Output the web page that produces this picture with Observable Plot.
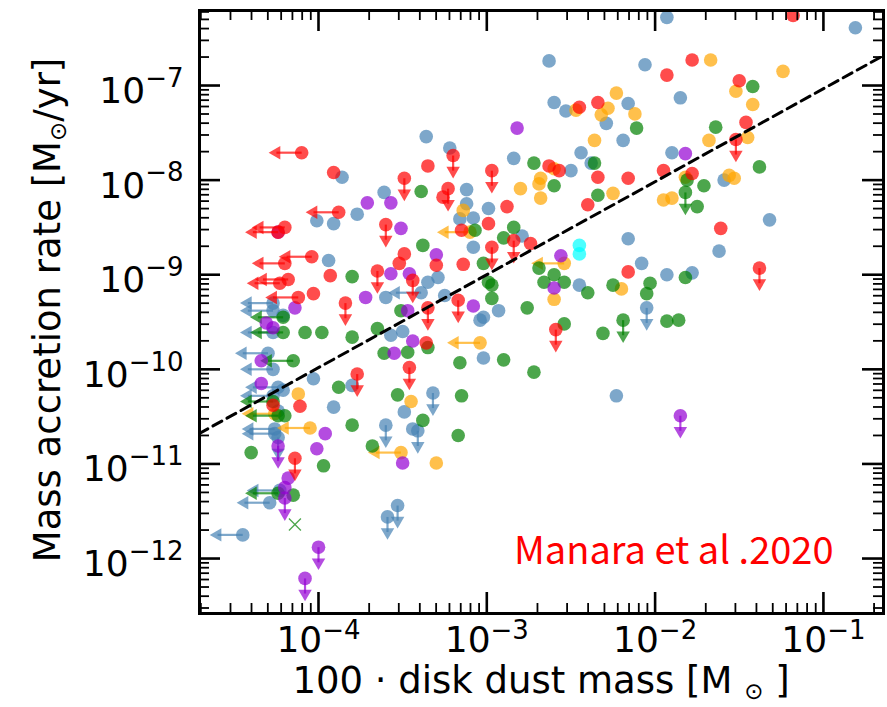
<!DOCTYPE html>
<html>
<head>
<meta charset="utf-8">
<script src="https://cdn.jsdelivr.net/npm/d3@7"></script>
<script src="https://cdn.jsdelivr.net/npm/@observablehq/plot@0.6"></script>
<style>
html, body { margin: 0; padding: 0; background: #fff; }
#chart svg { display: block; }
</style>
</head>
<body>
<div id="chart"></div>
<script>
// ---- Data: log10(100 * disk dust mass [Msun]) and log10(mass accretion rate [Msun/yr]) ----
// kind: d = detection, v = upper limit on accretion rate, l = upper limit on disk mass

const blueLogM = [-4.01,-3.94,-4.27,-4.27,-4.21,-4.27,-4.30,-4.27,-4.24,-4.21,-4.27,-4.03,-4.24,-4.26,-4.26,-4.24,-4.29,-4.23,-4.45,-3.36,-3.22,-3.86,-3.61,-3.12,-3.12,-3.16,-3.08,-2.99,-3.77,-3.91,-3.08,-3.35,-3.29,-3.60,-3.39,-3.25,-3.02,-3.50,-3.57,-3.04,-3.02,-3.80,-3.49,-3.32,-3.91,-3.60,-3.44,-3.41,-3.53,-3.59,-2.63,-2.06,-2.60,-2.53,-2.29,-2.16,-2.19,-2.84,-2.50,-2.44,-2.38,-2.79,-2.16,-2.45,-2.08,-2.05,-2.93,-2.23,-1.93,-0.81,-1.85,-1.90,-1.59,-1.32,-1.62,-1.78,-1.93];
const blueLogAcc = [-8.43,-8.85,-9.30,-9.38,-9.43,-9.61,-9.83,-10.00,-10.19,-10.22,-10.28,-10.10,-10.44,-10.63,-10.68,-10.72,-11.41,-11.28,-11.75,-7.54,-7.66,-7.97,-8.13,-8.10,-8.25,-8.41,-8.40,-8.30,-8.36,-8.46,-8.71,-9.08,-9.03,-9.24,-9.19,-9.22,-9.45,-9.60,-9.64,-9.48,-9.88,-10.17,-10.45,-10.25,-10.40,-10.59,-10.63,-10.65,-11.44,-11.56,-6.74,-6.78,-7.18,-7.27,-7.40,-7.19,-7.58,-7.77,-7.90,-7.71,-7.82,-8.59,-8.62,-9.11,-8.88,-9.35,-9.38,-10.28,-6.28,-6.39,-7.13,-7.71,-8.00,-8.42,-8.75,-8.98,-9.00];
const blueKind = "ddlldlllld" + "lddllvllld" + "dddddddddd" + "ddddlddddd" + "dddvdvdvvv" + "dddddddddd" + "dddddvdddd" + "ddddddd";

const orangeLogM = [-4.12,-4.26,-4.05,-3.14,-3.10,-3.04,-3.45,-3.51,-3.30,-2.47,-2.28,-2.32,-2.23,-2.12,-2.36,-2.60,-2.68,-2.69,-2.80,-2.25,-2.68,-2.54,-2.60,-2.20,-1.67,-1.24,-1.52,-1.42,-1.68,-1.45,-1.82,-1.56,-1.53,-1.95,-1.90];
const orangeLogAcc = [-10.26,-10.47,-10.62,-8.32,-8.55,-9.72,-10.34,-10.88,-10.99,-7.26,-7.24,-7.31,-7.08,-7.30,-7.58,-7.88,-7.98,-8.04,-8.09,-8.14,-8.19,-8.88,-9.26,-9.15,-6.73,-6.85,-7.06,-7.20,-7.58,-7.55,-7.97,-7.95,-7.98,-8.21,-8.19];
const orangeKind = "dlldlldldd" + "dddddddddd" + "dldddddddd" + "ddddd";

const greenLogM = [-4.21,-4.21,-4.08,-3.98,-4.15,-4.27,-4.24,-4.20,-4.40,-3.97,-4.15,-4.24,-3.39,-3.07,-3.38,-3.02,-3.80,-2.99,-3.51,-3.80,-3.65,-3.35,-3.61,-3.47,-3.16,-3.88,-3.53,-3.15,-3.80,-3.38,-3.17,-3.68,-2.11,-2.72,-2.60,-2.36,-2.34,-2.90,-2.84,-2.69,-2.60,-2.54,-2.66,-2.40,-2.25,-2.03,-2.05,-2.97,-2.97,-2.76,-2.54,-2.31,-2.19,-2.90,-2.72,-1.42,-1.64,-1.38,-1.81,-1.71,-1.82,-1.75,-1.82,-1.93,-1.86];
const greenLogAcc = [-9.45,-9.61,-9.61,-9.61,-9.91,-10.34,-10.49,-10.49,-10.88,-11.02,-11.33,-11.31,-8.12,-8.53,-8.69,-8.88,-9.02,-9.08,-9.38,-9.66,-9.57,-9.77,-9.83,-9.82,-9.93,-10.19,-10.27,-10.28,-10.59,-10.54,-10.70,-10.81,-7.45,-7.82,-8.06,-7.82,-8.16,-8.61,-8.50,-8.93,-9.00,-9.08,-9.08,-9.19,-9.11,-9.09,-9.20,-9.11,-9.25,-9.35,-9.52,-9.62,-9.48,-9.90,-10.03,-7.01,-7.44,-7.86,-8.00,-8.06,-8.13,-8.28,-9.03,-9.49,-9.48];
const greenKind = "llddllldd" + "d" + "dldddddddd" + "dddddddddd" + "dddddddddd" + "dddddddddd" + "ddvddddddd" + "vdddd";
const greenCrossLogM = [-4.14];
const greenCrossLogAcc = [-11.64];

const purpleLogM = [-4.24,-4.14,-4.31,-4.27,-4.34,-4.34,-4.24,-3.96,-4.01,-4.18,-4.20,-4.20,-4.00,-4.08,-3.71,-3.57,-3.51,-3.30,-3.57,-3.46,-3.72,-3.08,-3.47,-3.44,-3.55,-3.50,-2.82,-2.56,-2.60,-1.82,-1.85];
const purpleLogAcc = [-8.55,-9.35,-9.51,-9.56,-9.91,-10.15,-10.81,-10.68,-10.84,-11.15,-11.25,-11.36,-11.88,-12.21,-8.24,-8.24,-8.51,-8.79,-8.99,-8.99,-9.24,-9.33,-9.38,-9.70,-9.83,-10.99,-7.45,-8.80,-9.14,-7.72,-10.49];
const purpleKind = "ddddddvddd" + "dvvvdddddd" + "dddddddddd" + "v";

const redLogM = [-4.10,-4.20,-4.24,-4.04,-4.20,-3.93,-4.18,-4.23,-4.03,-4.12,-4.11,-4.27,-4.14,-3.20,-3.35,-3.91,-2.97,-3.49,-3.23,-3.26,-3.88,-3.60,-3.15,-2.99,-3.49,-3.52,-3.30,-3.14,-2.97,-3.65,-3.44,-3.84,-3.17,-3.35,-3.36,-3.46,-3.77,-2.45,-2.34,-2.63,-2.57,-2.34,-2.16,-2.88,-2.74,-2.84,-2.40,-2.16,-2.59,-1.18,-1.78,-1.93,-1.50,-1.46,-1.52,-1.95,-1.78,-1.61,-1.38];
const redLogAcc = [-7.71,-8.50,-8.55,-8.81,-8.88,-9.01,-9.05,-9.09,-9.20,-9.24,-10.39,-10.38,-10.94,-7.74,-7.85,-7.92,-7.90,-7.98,-8.09,-8.18,-8.34,-8.47,-8.53,-8.46,-8.78,-8.88,-8.90,-8.89,-8.71,-8.96,-9.06,-9.30,-9.27,-9.35,-9.72,-9.98,-10.05,-7.23,-7.18,-7.85,-7.90,-7.97,-7.98,-8.28,-8.67,-8.64,-8.26,-8.97,-9.58,-6.26,-6.73,-6.89,-6.95,-7.39,-7.57,-7.90,-7.93,-8.51,-8.93];
const redKind = "llllldlldl" + "ddvvddvvvd" + "lvddddddvv" + "vvvvdvvddd" + "dddddvddvd" + "ddddvdddv";

const cyanLogM = [-2.45,-2.45];
const cyanLogAcc = [-8.69,-8.78];
const cyanKind = "dd";

// dashed relation (two end points, log10)
const fitLogM = [-4.71, -0.64];
const fitLogAcc = [-10.68, -6.68];

// axes
const xTicks = [1e-4, 1e-3, 1e-2, 1e-1];
const xTickExp = ["\u22124", "\u22123", "\u22122", "\u22121"];
const yTicks = [1e-12, 1e-11, 1e-10, 1e-9, 1e-8, 1e-7];
const yTickExp = ["\u221212", "\u221211", "\u221210", "\u22129", "\u22128", "\u22127"];
const xLabelMain = "100 \u00b7 disk dust mass [M";
const yLabelMain = "Mass accretion rate [M";
const sunSymbol = "\u2299";
const caption = "Manara et al .2020";

// ---- layout ----
const W = 887, H = 707;
const mL = 199, mR = 4, mT = 10, mB = 94;
const innerW = W - mL - mR, innerH = H - mT - mB;
const MAJ = 21, MIN = 10;
const xDomain = [10 ** -4.707, 10 ** -0.643];
const yDomain = [10 ** -12.581, 10 ** -6.207];
const ARROW_V = 0.16, ARROW_L = 0.15; // dex offset of arrow heads
const ALPHA = 0.7;
const TICK_FONT = "DejaVu Sans";
const BASE_SIZE = 36, EXP_SIZE = 26;

const groups = [
  {color: "steelblue", m: blueLogM, a: blueLogAcc, k: blueKind},
  {color: "orange", m: orangeLogM, a: orangeLogAcc, k: orangeKind},
  {color: "green", m: greenLogM, a: greenLogAcc, k: greenKind},
  {color: "darkviolet", m: purpleLogM, a: purpleLogAcc, k: purpleKind},
  {color: "red", m: redLogM, a: redLogAcc, k: redKind},
  {color: "cyan", m: cyanLogM, a: cyanLogAcc, k: cyanKind}
];

function minorTicks([lo, hi]) {
  const out = [];
  for (let e = Math.floor(Math.log10(lo)); e <= Math.ceil(Math.log10(hi)); e++)
    for (let k = 2; k <= 9; k++) { const v = k * 10 ** e; if (v >= lo && v <= hi) out.push(v); }
  return out;
}
const xMinor = minorTicks(xDomain);
const yMinor = minorTicks(yDomain);

const marks = [];
for (const g of groups) {
  const rows = g.m.map((m, i) => ({M: 10 ** m, A: 10 ** g.a[i], kind: g.k[i]}));
  const down = rows.filter(d => d.kind === "v");
  const left = rows.filter(d => d.kind === "l");
  marks.push(
    Plot.link(down, {x1: "M", y1: "A", x2: "M", y2: d => d.A * 10 ** -ARROW_V, stroke: g.color, strokeOpacity: ALPHA, strokeWidth: 2.2, clip: true}),
    Plot.dot(down, {x: "M", y: d => d.A * 10 ** -ARROW_V, symbol: "triangle", rotate: 180, r: 5, fill: g.color, fillOpacity: ALPHA, clip: true}),
    Plot.link(left, {x1: "M", y1: "A", x2: d => d.M * 10 ** -ARROW_L, y2: "A", stroke: g.color, strokeOpacity: ALPHA, strokeWidth: 2.2, clip: true}),
    Plot.dot(left, {x: d => d.M * 10 ** -ARROW_L, y: "A", symbol: "triangle", rotate: -90, r: 5, fill: g.color, fillOpacity: ALPHA, clip: true}),
    Plot.dot(rows, {x: "M", y: "A", r: 6.8, fill: g.color, fillOpacity: ALPHA, clip: true})
  );
}
marks.push(
  Plot.dot(greenCrossLogM.map((m, i) => ({M: 10 ** m, A: 10 ** greenCrossLogAcc[i]})),
    {x: "M", y: "A", symbol: "times", r: 5.5, stroke: "green", strokeOpacity: ALPHA, strokeWidth: 1.3})
);

// dashed line
marks.push(Plot.line(fitLogM.map((m, i) => ({M: 10 ** m, A: 10 ** fitLogAcc[i]})),
  {x: "M", y: "A", stroke: "black", strokeWidth: 3, strokeDasharray: "10,6", clip: true}));

// ticks (inward, all four sides)
marks.push(
  Plot.tickX(xTicks, {x: d => d, insetTop: innerH - MAJ, strokeWidth: 2.6}),
  Plot.tickX(xTicks, {x: d => d, insetBottom: innerH - MAJ, strokeWidth: 2.6}),
  Plot.tickX(xMinor, {x: d => d, insetTop: innerH - MIN, strokeWidth: 1.8}),
  Plot.tickX(xMinor, {x: d => d, insetBottom: innerH - MIN, strokeWidth: 1.8}),
  Plot.tickY(yTicks, {y: d => d, insetRight: innerW - MAJ, strokeWidth: 2.6}),
  Plot.tickY(yTicks, {y: d => d, insetLeft: innerW - MAJ, strokeWidth: 2.6}),
  Plot.tickY(yMinor, {y: d => d, insetRight: innerW - MIN, strokeWidth: 1.8}),
  Plot.tickY(yMinor, {y: d => d, insetLeft: innerW - MIN, strokeWidth: 1.8}),
  Plot.frame({stroke: "black", strokeWidth: 3})
);

// tick labels
const ctx = document.createElement("canvas").getContext("2d");
ctx.font = `${BASE_SIZE}px "${TICK_FONT}"`;
const baseW = ctx.measureText("10").width;
ctx.font = `${EXP_SIZE}px "${TICK_FONT}"`;
xTicks.forEach((t, i) => {
  const ew = ctx.measureText(xTickExp[i]).width;
  const total = baseW + ew;
  marks.push(
    Plot.text([t], {x: d => d, frameAnchor: "bottom", text: () => "10", textAnchor: "start", dx: -total / 2, dy: 38, fontSize: BASE_SIZE, fontFamily: TICK_FONT, fill: "black"}),
    Plot.text([t], {x: d => d, frameAnchor: "bottom", text: () => xTickExp[i], textAnchor: "start", dx: -total / 2 + baseW, dy: 25, fontSize: EXP_SIZE, fontFamily: TICK_FONT, fill: "black"})
  );
});
yTicks.forEach((t, i) => {
  const ew = ctx.measureText(yTickExp[i]).width;
  marks.push(
    Plot.text([t], {y: d => d, frameAnchor: "left", text: () => yTickExp[i], textAnchor: "end", dx: -16, dy: -7, fontSize: EXP_SIZE, fontFamily: TICK_FONT, fill: "black"}),
    Plot.text([t], {y: d => d, frameAnchor: "left", text: () => "10", textAnchor: "end", dx: -16 - ew, dy: 6, fontSize: BASE_SIZE, fontFamily: TICK_FONT, fill: "black"})
  );
});

// caption
marks.push(Plot.text([caption], {frameAnchor: "bottom-right", text: d => d, textAnchor: "end", dx: -50, dy: -50,
  fontSize: 38, fontFamily: "Noto Sans CJK SC", fill: "red"}));

const chart = Plot.plot({
  width: W, height: H,
  marginLeft: mL, marginRight: mR, marginTop: mT, marginBottom: mB,
  x: {type: "log", domain: xDomain, axis: null},
  y: {type: "log", domain: yDomain, axis: null},
  marks
});
document.getElementById("chart").appendChild(chart);

// axis titles with subscript sun symbol
const svg = d3.select(chart);
const LABEL_FONT = "DejaVu Sans", LABEL_SIZE = 37;
const xl = svg.append("text").attr("x", 541).attr("y", 693).attr("text-anchor", "middle")
  .attr("font-family", LABEL_FONT).attr("font-size", LABEL_SIZE).attr("fill", "black");
xl.append("tspan").text(xLabelMain + " ");
xl.append("tspan").attr("font-size", LABEL_SIZE * 0.62).attr("dy", 6).text(sunSymbol);
xl.append("tspan").attr("dy", -6).text(" ]");

const yl = svg.append("text").attr("transform", "translate(60,310) rotate(-90)").attr("text-anchor", "middle")
  .attr("font-family", LABEL_FONT).attr("font-size", LABEL_SIZE).attr("fill", "black");
yl.append("tspan").text(yLabelMain);
yl.append("tspan").attr("font-size", LABEL_SIZE * 0.62).attr("dy", 6).text(sunSymbol);
yl.append("tspan").attr("dy", -6).text("/yr]");
</script>
</body>
</html>
